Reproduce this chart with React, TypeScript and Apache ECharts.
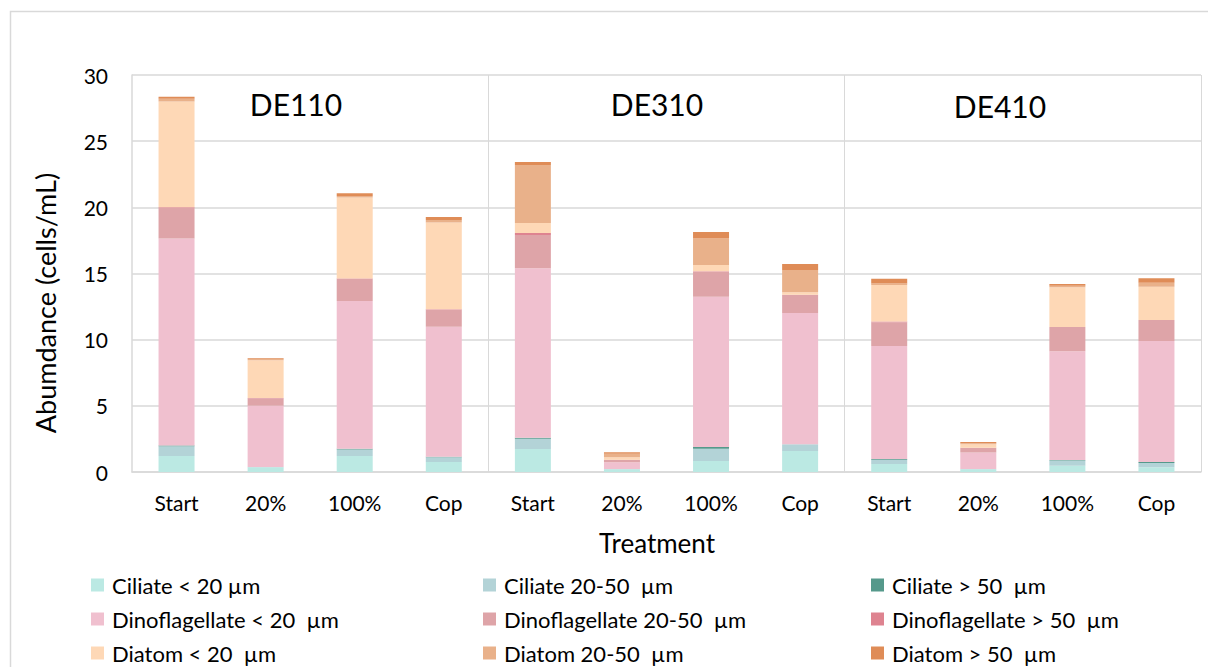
import React, { useEffect, useRef } from "react";
import * as echarts from "echarts";

// Sampling sites and treatments (x axis is site x treatment)
const sites = ["DE110", "DE310", "DE410"];
const treatments = ["Start", "20%", "100%", "Cop"];

// y axis
const yMin = 0;
const yMax = 30;
const yStep = 5;

// Abundance (cells/mL) per size class, ordered DE110 Start..Cop, DE310 Start..Cop, DE410 Start..Cop
const ciliateSmall = [1.2, 0.35, 1.2, 0.76, 1.74, 0.2, 0.83, 1.59, 0.6, 0.2, 0.48, 0.35];
const ciliateMid = [0.75, 0.02, 0.5, 0.36, 0.78, 0.02, 0.93, 0.5, 0.33, 0.02, 0.38, 0.33];
const ciliateLarge = [0.05, 0, 0.05, 0.04, 0.06, 0, 0.13, 0, 0.05, 0, 0.04, 0.07];
const dinoSmall = [15.65, 4.63, 11.18, 9.82, 12.82, 0.51, 11.36, 9.93, 8.54, 1.26, 8.22, 9.15];
const dinoMid = [2.3, 0.57, 1.66, 1.29, 2.5, 0.17, 1.89, 1.36, 1.79, 0.35, 1.84, 1.59];
const dinoLarge = [0.05, 0.02, 0.03, 0.03, 0.16, 0.02, 0.03, 0.02, 0.07, 0, 0, 0];
const diatomSmall = [8.0, 2.85, 6.12, 6.55, 0.76, 0.2, 0.48, 0.18, 2.76, 0.26, 3.0, 2.51];
const diatomMid = [0.2, 0.1, 0.12, 0.2, 4.38, 0.26, 1.99, 1.69, 0.1, 0.08, 0.12, 0.3];
const diatomLarge = [0.15, 0.06, 0.2, 0.22, 0.23, 0.12, 0.5, 0.45, 0.36, 0.1, 0.12, 0.35];

const seriesNames = [
  "Ciliate < 20 \u00b5m",
  "Ciliate 20-50  \u00b5m",
  "Ciliate > 50  \u00b5m",
  "Dinoflagellate < 20  \u00b5m",
  "Dinoflagellate 20-50  \u00b5m",
  "Dinoflagellate > 50  \u00b5m",
  "Diatom < 20  \u00b5m",
  "Diatom 20-50  \u00b5m",
  "Diatom > 50  \u00b5m",
];
const seriesValues = [
  ciliateSmall, ciliateMid, ciliateLarge,
  dinoSmall, dinoMid, dinoLarge,
  diatomSmall, diatomMid, diatomLarge,
];
const seriesColors = [
  "#bbe9e3", "#b3d3d7", "#55998b",
  "#f0c0cf", "#dea4a8", "#de8390",
  "#fed8b6", "#e9b18a", "#df8c57",
];

const FONT = "Lato, 'Open Sans', sans-serif";
const GRID_LEFT = 132;
const GRID_RIGHT = 7;
const GRID_TOP = 75;
const GRID_BOTTOM = 195;

// Horizontal centres of the site headings
const siteLabelX = [296, 657, 1000];

export default function App() {
  const ref = useRef<HTMLDivElement>(null);

  useEffect(() => {
    if (!ref.current) return;
    const chart = echarts.init(ref.current, undefined, { renderer: "svg" });

    const categories: string[] = [];
    sites.forEach((s) => treatments.forEach((t) => categories.push(s + "|" + t)));

    const legendColumn = (idx: number[], left: number) => ({
      show: true,
      orient: "vertical" as const,
      left,
      top: 574,
      height: 120,
      padding: 0,
      itemWidth: 13,
      itemHeight: 13,
      itemGap: 12,
      icon: "rect",
      data: idx.map((i) => seriesNames[i]),
      textStyle: {
        fontFamily: FONT,
        fontSize: 22,
        lineHeight: 20,
        color: "#000",
        padding: [0, 0, 0, 3],
      },
      selectedMode: false,
    });

    chart.setOption({
      animation: false,
      backgroundColor: "#fff",
      textStyle: { fontFamily: FONT },
      grid: { left: GRID_LEFT, right: GRID_RIGHT, top: GRID_TOP, bottom: GRID_BOTTOM },
      legend: [
        legendColumn([0, 3, 6], 91),
        legendColumn([1, 4, 7], 483),
        legendColumn([2, 5, 8], 871),
      ],
      xAxis: {
        type: "category",
        data: categories,
        axisLine: { show: true, lineStyle: { color: "#d9d9d9", width: 1.5 } },
        axisTick: { show: false },
        splitLine: {
          show: true,
          interval: (index: number) => index > 0 && index % treatments.length === 0,
          lineStyle: { color: "#d9d9d9", width: 1 },
        },
        axisLabel: {
          interval: 0,
          margin: 20,
          fontSize: 21,
          fontFamily: FONT,
          color: "#000",
          formatter: (v: string) => v.split("|")[1],
        },
      },
      yAxis: {
        type: "value",
        min: yMin,
        max: yMax,
        interval: yStep,
        axisLine: { show: true, lineStyle: { color: "#d9d9d9", width: 1.5 } },
        axisTick: { show: false },
        splitLine: { show: true, lineStyle: { color: "#d9d9d9", width: 1.5 } },
        axisLabel: {
          margin: 24,
          fontSize: 21,
          fontFamily: FONT,
          color: "#000",
        },
      },
      series: seriesNames.map((name, i) => ({
        name,
        type: "bar",
        stack: "total",
        barWidth: 36,
        data: seriesValues[i],
        itemStyle: { color: seriesColors[i] },
      })),
      graphic: [
        {
          type: "rect",
          silent: true,
          shape: { x: 10.5, y: 11.5, width: 1300, height: 800 },
          style: { fill: "none", stroke: "#d9d9d9", lineWidth: 1.5 },
          z: -10,
        },
        ...sites.map((s, i) => ({
          type: "text",
          silent: true,
          x: siteLabelX[i],
          y: 104 + (i === 2 ? 2 : 0),
          style: {
            text: s,
            fontSize: 30,
            fontFamily: FONT,
            fill: "#000",
            align: "center",
            verticalAlign: "middle",
          },
        })),
        {
          type: "text",
          silent: true,
          x: 657,
          y: 543,
          style: {
            text: "Treatment",
            fontSize: 26,
            fontFamily: FONT,
            fill: "#000",
            align: "center",
            verticalAlign: "middle",
          },
        },
        {
          type: "text",
          silent: true,
          x: 45,
          y: 303,
          rotation: Math.PI / 2,
          style: {
            text: "Abumdance (cells/mL)",
            fontSize: 27,
            fontFamily: FONT,
            fill: "#000",
            align: "center",
            verticalAlign: "middle",
          },
        },
      ],
    });

    return () => chart.dispose();
  }, []);

  return (
    <div
      ref={ref}
      style={{ position: "fixed", left: 0, top: 0, width: 1208, height: 667 }}
    />
  );
}
